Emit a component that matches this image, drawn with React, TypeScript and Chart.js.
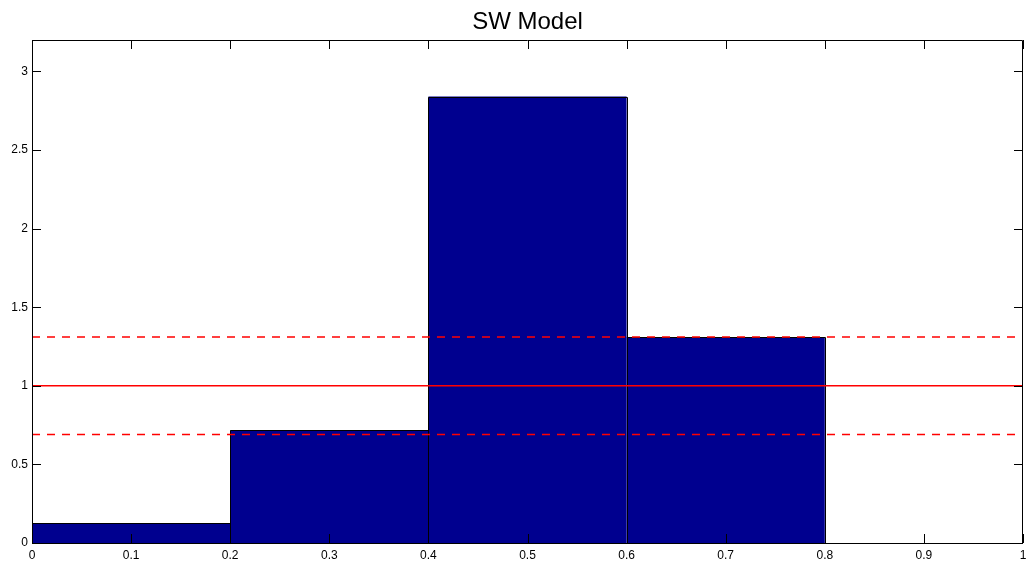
import React, { useEffect, useRef } from "react";
import { Chart, registerables } from "chart.js";

Chart.register(...registerables);

const binCenters = [0.1, 0.3, 0.5, 0.7, 0.9];
const binValues = [0.127, 0.717, 2.84, 1.31, 0];
const meanLevel = 1;
const upperLevel = 1.31;
const lowerLevel = 0.69;
const xTickLabels = ["0", "0.1", "0.2", "0.3", "0.4", "0.5", "0.6", "0.7", "0.8", "0.9", "1"];
const yTickLabels = ["0", "0.5", "1", "1.5", "2", "2.5", "3"];
const titleText = "SW Model";

const FONT = "'Liberation Sans', Arial, Helvetica, sans-serif";

const frameTicks = {
  id: "frameTicks",
  afterDatasetDraw(chart: any, args: any) {
    const meta = args.meta;
    if (meta.type !== "bar") return;
    const { ctx } = chart;
    ctx.save();
    ctx.strokeStyle = "#000";
    ctx.lineWidth = 1;
    meta.data.forEach((el: any) => {
      const p = el.getProps(["x", "y", "base", "width"], true);
      if (Math.abs(p.base - p.y) < 0.5) return;
      const l = Math.round(p.x - p.width / 2) + 0.5;
      const r = Math.round(p.x + p.width / 2) + 0.5;
      const t = Math.round(p.y) + 0.5;
      const b = Math.round(p.base) + 0.5;
      ctx.beginPath();
      ctx.rect(l, t, r - l, b - t);
      ctx.stroke();
    });
    ctx.restore();
  },
  afterDatasetsDraw(chart: any) {
    const { ctx, chartArea, scales } = chart;
    const { left, right, top, bottom } = chartArea;
    ctx.save();
    ctx.strokeStyle = "#000";
    ctx.lineWidth = 1;
    const L = 9;
    ctx.beginPath();
    scales.x.ticks.forEach((t: any) => {
      const px = Math.round(scales.x.getPixelForValue(t.value)) + 0.5;
      ctx.moveTo(px, bottom);
      ctx.lineTo(px, bottom - L);
      ctx.moveTo(px, top);
      ctx.lineTo(px, top + L);
    });
    scales.y.ticks.forEach((t: any) => {
      const py = Math.round(scales.y.getPixelForValue(t.value)) + 0.5;
      ctx.moveTo(left, py);
      ctx.lineTo(left + L, py);
      ctx.moveTo(right, py);
      ctx.lineTo(right - L, py);
    });
    ctx.stroke();
    ctx.beginPath();
    ctx.rect(Math.round(left) + 0.5, Math.round(top) + 0.5, Math.round(right - left) - 1, Math.round(bottom - top));
    ctx.stroke();
    // title centred over the plot area
    ctx.fillStyle = "#000";
    ctx.font = `24px ${FONT}`;
    ctx.textAlign = "center";
    ctx.textBaseline = "alphabetic";
    ctx.fillText(titleText, (left + right) / 2, top - 11);
    ctx.restore();
  },
};

function hline(level: number, dashed: boolean) {
  return {
    type: "line" as const,
    data: [
      { x: 0, y: level },
      { x: 1, y: level },
    ],
    borderColor: "#ff0000",
    borderWidth: 1.5,
    borderDash: dashed ? [8, 7] : [],
    pointRadius: 0,
    fill: false,
    order: 0,
  };
}

export default function App() {
  const ref = useRef<HTMLCanvasElement>(null);
  useEffect(() => {
    document.body.style.margin = "0";
    const chart = new Chart(ref.current!, {
      type: "bar",
      data: {
        datasets: [
          hline(meanLevel, false),
          hline(upperLevel, true),
          hline(lowerLevel, true),
          {
            type: "bar",
            data: binCenters.map((x, i) => ({ x, y: binValues[i] })),
            backgroundColor: "rgb(0,0,143)",
            borderWidth: 0,
            barPercentage: 1,
            categoryPercentage: 2,
            order: 1,
          } as any,
        ],
      },
      options: {
        animation: false,
        responsive: false,
        devicePixelRatio: 1,
        layout: { padding: { top: 40, right: 6, left: 0, bottom: 0 } },
        plugins: {
          legend: { display: false },
          tooltip: { enabled: false },
          title: { display: false },
        },
        scales: {
          x: {
            type: "linear",
            min: 0,
            max: 1,
            offset: false,
            grid: { display: false, drawTicks: false },
            border: { display: false },
            afterFit: (s: any) => {
              s.height = 21;
              s.paddingLeft = 0;
              s.paddingRight = 0;
            },
            ticks: {
              stepSize: 0.1,
              maxRotation: 0,
              autoSkip: false,
              padding: 5,
              color: "#000",
              font: { family: FONT, size: 12 },
              callback: (v: any) => xTickLabels[Math.round(Number(v) * 10)],
            },
          },
          y: {
            type: "linear",
            min: 0,
            max: 3.2,
            grid: { display: false, drawTicks: false },
            border: { display: false },
            afterFit: (s: any) => {
              s.width = 32;
              s.paddingTop = 0;
              s.paddingBottom = 0;
            },
            ticks: {
              stepSize: 0.5,
              includeBounds: false,
              padding: 4,
              color: "#000",
              font: { family: FONT, size: 12 },
              callback: (v: any) => yTickLabels[Math.round(Number(v) * 2)],
            },
          },
        },
      },
      plugins: [frameTicks],
    });
    return () => chart.destroy();
  }, []);
  return (
    <div style={{ width: 1029, height: 564 }}>
      <canvas ref={ref} width={1029} height={564} />
    </div>
  );
}
